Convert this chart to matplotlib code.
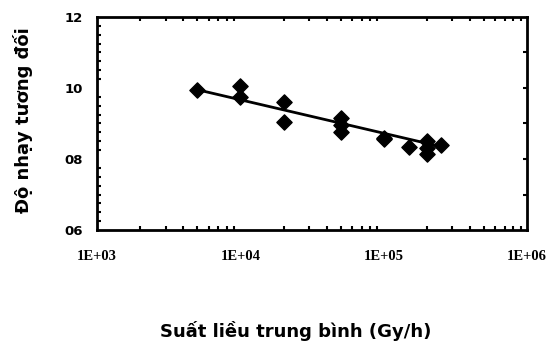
import numpy as np
import matplotlib
matplotlib.use("Agg")
import matplotlib.pyplot as plt
from matplotlib.ticker import LogLocator, MultipleLocator, NullFormatter, FixedLocator

# dose rate (Gy/h) and relative sensitivity
dose_rate = [5e3, 1e4, 1e4, 2e4, 2e4, 5e4, 5e4, 5e4, 1e5, 1e5, 1.5e5, 2e5, 2e5, 2e5, 2.5e5]
sensitivity = [0.995, 1.005, 0.975, 0.96, 0.905, 0.915, 0.895, 0.875, 0.86, 0.855,
               0.835, 0.85, 0.83, 0.815, 0.84]

# trend line end points
fit_x = [5e3, 2.5e5]
fit_y = [0.995, 0.835]

x_ticks = [1e3, 1e4, 1e5, 1e6]
x_labels = ["1E+03", "1E+04", "1E+05", "1E+06"]
y_ticks = [0.6, 0.8, 1.0, 1.2]
y_labels = ["06", "08", "10", "12"]

fig = plt.figure(figsize=(5.52, 3.44), dpi=100)
ax = fig.add_axes([0.176, 0.331, 0.779, 0.62])

ax.plot(fit_x, fit_y, color="black", lw=2, zorder=2)
ax.scatter(dose_rate, sensitivity, marker="D", s=60, color="black", zorder=3)

ax.set_xscale("log")
ax.set_xlim(1e3, 1e6)
ax.set_ylim(0.6, 1.2)

serif = {"family": "Liberation Serif", "weight": "bold", "size": 10.5}
ax.set_xticks(x_ticks)
ax.set_xticklabels(x_labels, fontdict=serif)
ax.set_yticks(y_ticks)
ax.set_yticklabels(y_labels, fontdict={"family": "DejaVu Sans", "weight": "bold", "size": 9.5})
ax.xaxis.set_minor_locator(LogLocator(base=10, subs=np.arange(2, 10)))
ax.xaxis.set_minor_formatter(NullFormatter())
ax.yaxis.set_minor_locator(MultipleLocator(0.025))

ax.tick_params(axis="x", which="both", direction="in", top=True, pad=14)
ax.tick_params(axis="x", which="major", length=0)
ax.tick_params(axis="x", which="minor", length=3, width=1.5)
ax.tick_params(axis="y", which="major", direction="in", length=0, pad=10)
ax.tick_params(axis="y", which="minor", direction="in", length=3, width=1.5, right=False)

# right-side ticks every 0.1
sec = ax.secondary_yaxis("right")
sec.yaxis.set_major_locator(FixedLocator([0.7, 0.8, 0.9, 1.0, 1.1]))
sec.tick_params(direction="in", length=3, width=1.5, labelright=False)
sec.spines["right"].set_visible(False)

for s in ax.spines.values():
    s.set_linewidth(2)

ax.set_ylabel("Độ nhạy tương đối", fontsize=13, fontweight="bold")
ax.yaxis.set_label_coords(-0.149, 0.515)
fig.text(0.536, 0.02, "Suất liều trung bình (Gy/h)", ha="center", fontsize=13,
         fontweight="bold")

fig.savefig("out.png", dpi=100)
